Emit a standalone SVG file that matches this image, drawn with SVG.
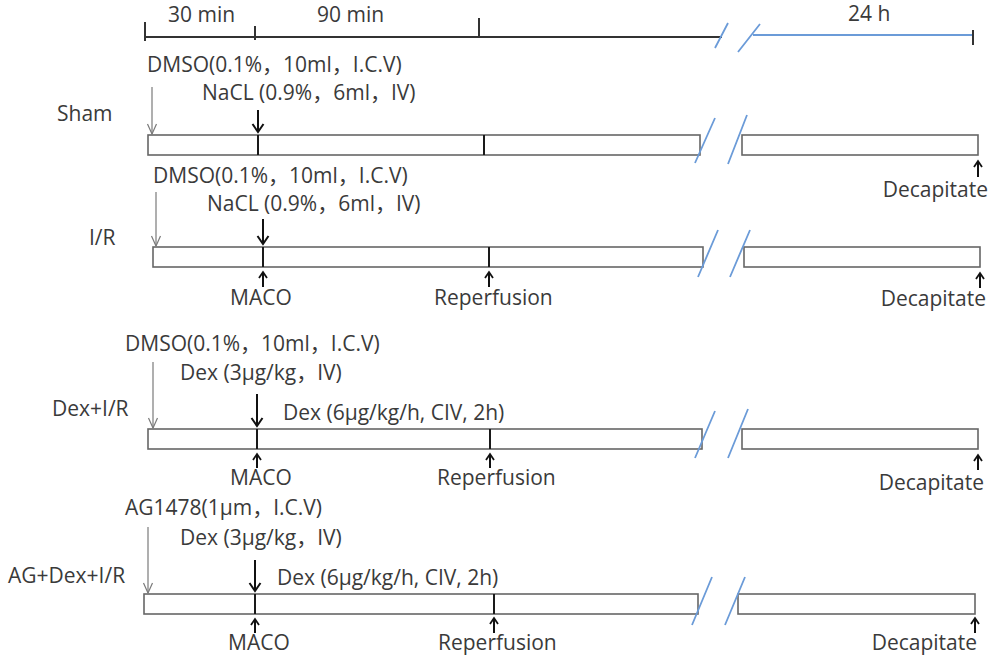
<svg xmlns="http://www.w3.org/2000/svg" width="990" height="663" viewBox="0 0 990 663">
<style>
text{font-family:"Open Sans","Noto Sans CJK SC",sans-serif;font-size:21px;fill:#3a3a3a}
.bar{fill:#fff;stroke:#666;stroke-width:1.6}
.div{stroke:#1a1a1a;stroke-width:2}
.axis{stroke:#333;stroke-width:2;fill:none}
.blue{stroke:#6b9bd8;stroke-width:1.8;fill:none}
.thin{stroke:#7a7a7a;stroke-width:1.2;fill:none}
.blk{stroke:#111;stroke-width:2;fill:none}
.end{text-anchor:end}
</style>
<defs>
<marker id="ahBig" viewBox="-10 -7 12 14" markerWidth="12" markerHeight="14" refX="0" refY="0" orient="auto" markerUnits="userSpaceOnUse">
<path d="M-8,-5.5 L0,0 L-8,5.5" fill="none" stroke="#111" stroke-width="2"/>
</marker>
<marker id="ahSmall" viewBox="-8 -5 10 10" markerWidth="10" markerHeight="10" refX="0" refY="0" orient="auto" markerUnits="userSpaceOnUse">
<path d="M-6,-4 L0,0 L-6,4" fill="none" stroke="#111" stroke-width="1.8"/>
</marker>
<marker id="ahThin" viewBox="-11 -6 12 12" markerWidth="12" markerHeight="12" refX="0" refY="0" orient="auto" markerUnits="userSpaceOnUse">
<path d="M-10,-4.5 L0,0 L-10,4.5" fill="none" stroke="#7a7a7a" stroke-width="1.2"/>
</marker>
</defs>

<g id="timescale">
<path class="axis" d="M145,37 H722 M145,22 V41 M255,26 V40 M479,18 V38"/>
<path class="blue" d="M753,35 H973 M715,48 L728,23 M738,52 L760,24"/>
<path class="axis" d="M973,30 V45"/>
<text x="168" y="22">30 min</text>
<text x="317" y="22">90 min</text>
<text x="848" y="21">24 h</text>
</g>

<g id="row-sham">
<text x="57" y="121">Sham</text>
<rect class="bar" x="148" y="135" width="552" height="20"/>
<rect class="bar" x="742" y="135" width="236" height="20"/>
<path class="div" d="M258,135 V155 M484,135 V155"/>
<path class="blue" d="M695,163 L715,118 M728,164 L747,115"/>
<text x="147" y="72">DMSO(0.1%，10ml，I.C.V)</text>
<text x="202" y="100">NaCL (0.9%，6ml，IV)</text>
<text class="end" x="988" y="197">Decapitate</text>
</g>

<g id="row-ir">
<text x="89" y="245">I/R</text>
<rect class="bar" x="153" y="247" width="550" height="20"/>
<rect class="bar" x="744" y="247" width="236" height="20"/>
<path class="div" d="M263,247 V267 M489,247 V267"/>
<path class="blue" d="M698,277 L718,230 M730,277 L750,230"/>
<text x="153" y="183">DMSO(0.1%，10ml，I.C.V)</text>
<text x="207" y="211">NaCL (0.9%，6ml，IV)</text>
<text x="230" y="305">MACO</text>
<text x="434" y="305">Reperfusion</text>
<text class="end" x="986" y="306">Decapitate</text>
</g>

<g id="row-dex">
<text x="52" y="416">Dex+I/R</text>
<rect class="bar" x="148" y="429" width="554" height="20"/>
<rect class="bar" x="742" y="429" width="236" height="20"/>
<path class="div" d="M257,429 V449 M490,429 V449"/>
<path class="blue" d="M695,458 L715,411 M728,458 L748,409"/>
<text x="125" y="351">DMSO(0.1%，10ml，I.C.V)</text>
<text x="180" y="380">Dex (3μg/kg，IV)</text>
<text x="283" y="420">Dex (6μg/kg/h, CIV, 2h)</text>
<text x="230" y="485">MACO</text>
<text x="437" y="485">Reperfusion</text>
<text class="end" x="984" y="490">Decapitate</text>
</g>

<g id="row-ag">
<text x="8" y="583">AG+Dex+I/R</text>
<rect class="bar" x="144" y="594" width="554" height="20"/>
<rect class="bar" x="738" y="594" width="237" height="20"/>
<path class="div" d="M255,594 V614 M494,594 V614"/>
<path class="blue" d="M692,625 L712,577 M725,625 L745,577"/>
<text x="125" y="515">AG1478(1μm，I.C.V)</text>
<text x="180" y="545">Dex (3μg/kg，IV)</text>
<text x="277" y="585">Dex (6μg/kg/h, CIV, 2h)</text>
<text x="228" y="650">MACO</text>
<text x="438" y="650">Reperfusion</text>
<text class="end" x="977" y="650">Decapitate</text>
</g>

<g id="connectors">
<path class="thin" marker-end="url(#ahThin)" d="M152,87 V134"/>
<path class="blk" marker-end="url(#ahBig)" d="M258,110 V132"/>
<path class="blk" marker-end="url(#ahSmall)" d="M978,177 V161"/>

<path class="thin" marker-end="url(#ahThin)" d="M156,192 V246"/>
<path class="blk" marker-end="url(#ahBig)" d="M263,219 V244"/>
<path class="blk" marker-end="url(#ahSmall)" d="M263,287 V272"/>
<path class="blk" marker-end="url(#ahSmall)" d="M489,287 V272"/>
<path class="blk" marker-end="url(#ahSmall)" d="M980,288 V273"/>

<path class="thin" marker-end="url(#ahThin)" d="M153,362 V428"/>
<path class="blk" marker-end="url(#ahBig)" d="M257,394 V426"/>
<path class="blk" marker-end="url(#ahSmall)" d="M257,468 V454"/>
<path class="blk" marker-end="url(#ahSmall)" d="M490,468 V454"/>
<path class="blk" marker-end="url(#ahSmall)" d="M978,470 V455"/>

<path class="thin" marker-end="url(#ahThin)" d="M148,527 V593"/>
<path class="blk" marker-end="url(#ahBig)" d="M255,560 V591"/>
<path class="blk" marker-end="url(#ahSmall)" d="M255,633 V619"/>
<path class="blk" marker-end="url(#ahSmall)" d="M494,633 V618"/>
<path class="blk" marker-end="url(#ahSmall)" d="M975,633 V618"/>
</g>
</svg>
